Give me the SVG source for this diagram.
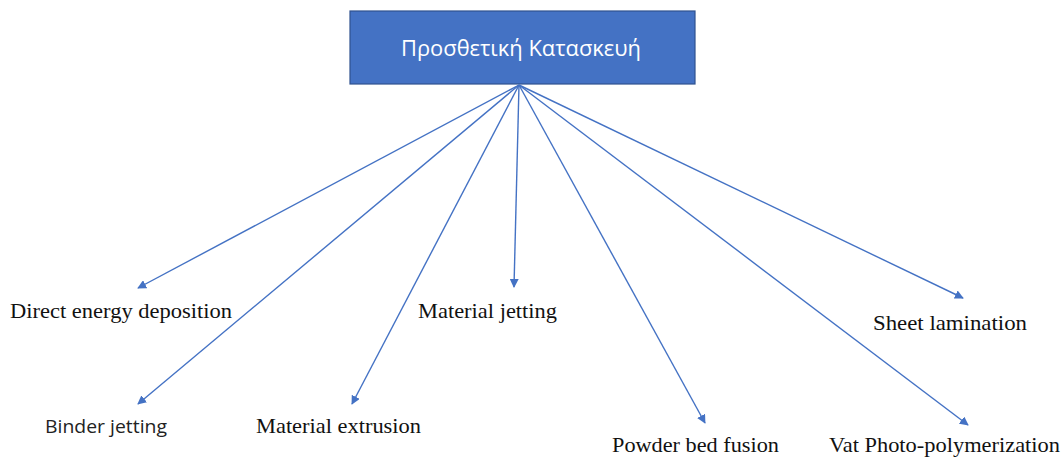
<svg xmlns="http://www.w3.org/2000/svg" width="1063" height="463" viewBox="0 0 1063 463">
<style>
.ser{font-family:"Liberation Serif","Times New Roman",serif;font-size:21px;fill:#111}
.san{font-family:"Open Sans","Liberation Sans",sans-serif;font-size:19px;fill:#222}
.ln{stroke:#4472C4;stroke-width:1.4;fill:none;marker-end:url(#ah)}
</style>
<defs>
<marker id="ah" viewBox="0 0 10 10" refX="9" refY="5" markerWidth="9" markerHeight="9" markerUnits="userSpaceOnUse" orient="auto">
<path d="M0,0 L10,5 L0,10 z" fill="#4472C4"/>
</marker>
</defs>
<rect width="1063" height="463" fill="#fff"/>
<g id="root">
<rect x="350" y="11" width="345" height="73" fill="#4472C4" stroke="#2F528F" stroke-width="1.2"/>
<text x="521" y="56" text-anchor="middle" font-family="Open Sans, Liberation Sans, sans-serif" font-size="21" fill="#fff" textLength="240" lengthAdjust="spacingAndGlyphs">Προσθετική Κατασκευή</text>
</g>
<g id="connectors">
<line class="ln" x1="519" y1="85" x2="138" y2="288"/>
<line class="ln" x1="519" y1="85" x2="138" y2="404"/>
<line class="ln" x1="519" y1="85" x2="352" y2="404"/>
<line class="ln" x1="519" y1="85" x2="514" y2="287"/>
<line class="ln" x1="519" y1="85" x2="705" y2="423"/>
<line class="ln" x1="519" y1="85" x2="963" y2="298"/>
<line class="ln" x1="519" y1="85" x2="968" y2="425"/>
</g>
<g id="n1"><text class="ser" x="10" y="318" textLength="222" lengthAdjust="spacingAndGlyphs">Direct energy deposition</text></g>
<g id="n2"><text class="san" x="45" y="433" textLength="122" lengthAdjust="spacingAndGlyphs">Binder jetting</text></g>
<g id="n3"><text class="ser" x="256" y="433" textLength="165" lengthAdjust="spacingAndGlyphs">Material extrusion</text></g>
<g id="n4"><text class="ser" x="418" y="318" textLength="139" lengthAdjust="spacingAndGlyphs">Material jetting</text></g>
<g id="n5"><text class="ser" x="612" y="452" textLength="167" lengthAdjust="spacingAndGlyphs">Powder bed fusion</text></g>
<g id="n6"><text class="ser" x="873" y="330" textLength="154" lengthAdjust="spacingAndGlyphs">Sheet lamination</text></g>
<g id="n7"><text class="ser" x="829" y="452" textLength="231" lengthAdjust="spacingAndGlyphs">Vat Photo-polymerization</text></g>
</svg>
